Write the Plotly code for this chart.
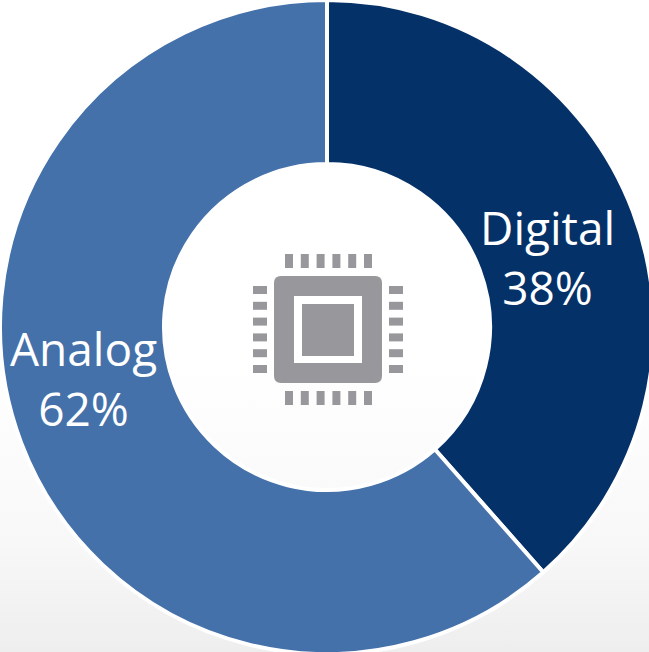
import plotly.graph_objects as go

labels = ["Digital", "Analog"]
values = [38.5, 61.5]
colors = ["#053169", "#4471AA"]
texts = ["Digital<br>38%", "Analog<br>62%"]

SIZE = 654
fig = go.Figure(go.Pie(labels=labels, values=values, hole=0.4985, sort=False, direction="clockwise", rotation=0,
    marker=dict(colors=colors, line=dict(color="white", width=4)), textinfo="none",
    hoverinfo="label", showlegend=False,
    domain=dict(x=[0, 1], y=[0, 1])))
fig.update_layout(width=SIZE, height=SIZE, margin=dict(l=0, r=0, t=0, b=0),
    paper_bgcolor="rgba(0,0,0,0)", plot_bgcolor="rgba(0,0,0,0)",
    font=dict(family="Open Sans", color="white", size=46),
    xaxis=dict(visible=False, range=[0, SIZE], domain=[0, 1], fixedrange=True),
    yaxis=dict(visible=False, range=[SIZE, 0], domain=[0, 1], fixedrange=True))
for t, x, y in [(texts[0], 547, 257), (texts[1], 83, 378)]:
    fig.add_annotation(x=x, y=y, text=t, showarrow=False, xref="x", yref="y", font=dict(size=46, color="white", family="Open Sans"))

g = "#98979C"
def rect(x0, y0, x1, y1, color=g):
    fig.add_shape(type="rect", x0=x0, y0=y0, x1=x1, y1=y1, fillcolor=color, line_width=0, xref="x", yref="y", layer="above")
for i in range(6):
    x = 285 + i * 15.8
    rect(x, 254, x + 8, 268)
    rect(x, 391, x + 8, 405)
    y = 286 + i * 15.8
    rect(253, y, 267, y + 8)
    rect(389, y, 403, y + 8)
fig.add_shape(type="path", path="M281 276 H375 Q382 276 382 283 V376 Q382 383 375 383 H281 Q274 383 274 376 V283 Q274 276 281 276 Z",
    fillcolor=g, line_width=0, layer="above", xref="x", yref="y")
rect(294, 296, 362, 363, "white")
rect(302, 304, 354, 356)
fig.write_html("out.html", config=dict(displayModeBar=False), post_script="""
document.documentElement.style.overflow='hidden';
document.documentElement.style.height='100%';
document.body.style.margin='0';
document.body.style.overflow='hidden';
document.body.style.height='100%';
document.body.style.background='linear-gradient(#ffffff 0%, #ffffff 55%, #f8f8f8 83%, #eeeeee 100%)';
""")
